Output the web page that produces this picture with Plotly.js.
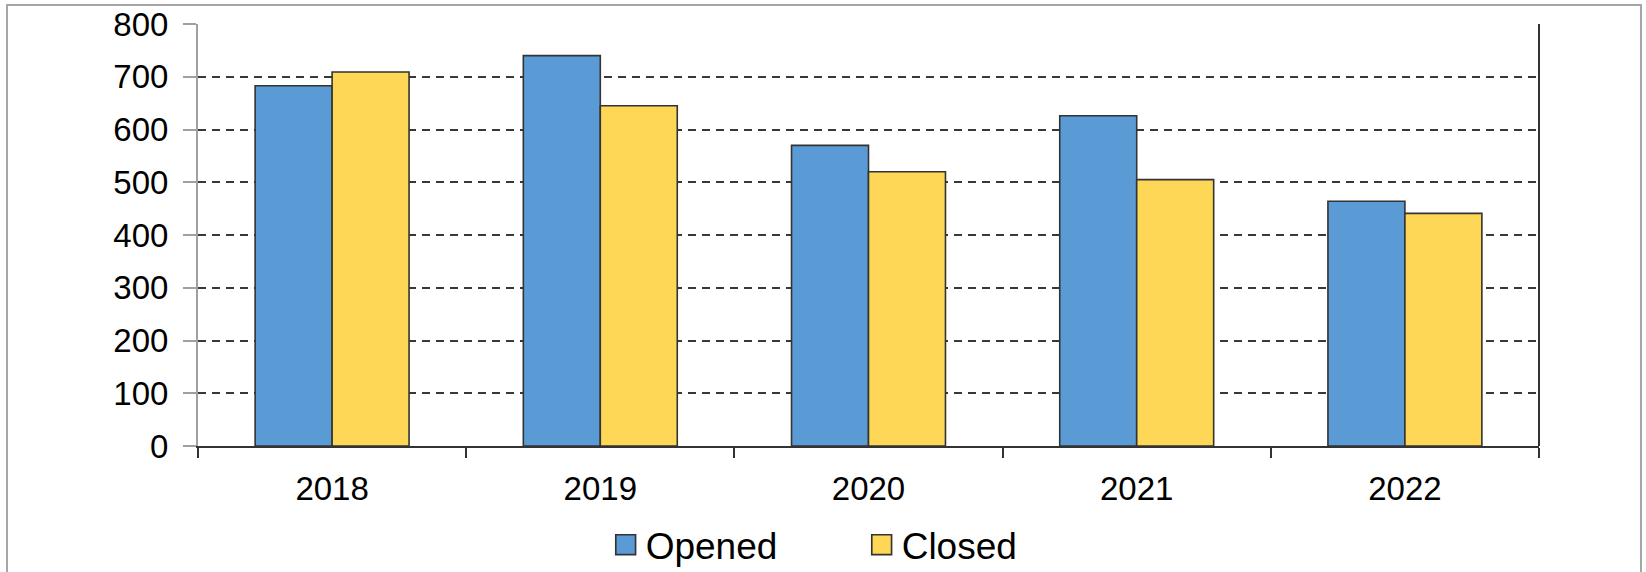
<!DOCTYPE html>
<html>
<head>
<meta charset="utf-8">
<script src="https://cdn.plot.ly/plotly-3.0.1.min.js"></script>
<style>
  html, body { margin: 0; padding: 0; background: #fff; overflow: hidden; }
  #chart { width: 1646px; height: 572px; }
  #frame { position: absolute; left: 6px; top: 4px; width: 1636px; height: 600px;
           border: 2px solid #a6a6a6; pointer-events: none; box-sizing: border-box; }
</style>
</head>
<body>
<div id="chart"></div>
<div id="frame"></div>
<script>
const years = ["2018", "2019", "2020", "2021", "2022"];
const opened = [683, 740, 570, 626, 464];
const closed = [709, 645, 520, 505, 441];
const yTicks = [0, 100, 200, 300, 400, 500, 600, 700, 800];

const FONT = "Liberation Sans, Arial, sans-serif";

const traces = [
  {
    type: "bar", name: "Opened", x: years, y: opened,
    marker: { color: "#5b9bd5", line: { color: "#333333", width: 1.6 } },
    hoverinfo: "x+y"
  },
  {
    type: "bar", name: "Closed", x: years, y: closed,
    marker: { color: "#ffd757", line: { color: "#333333", width: 1.6 } },
    hoverinfo: "x+y"
  }
];

const layout = {
  width: 1646, height: 572,
  margin: { l: 198, r: 107, t: 24, b: 126, autoexpand: false },
  paper_bgcolor: "#ffffff", plot_bgcolor: "#ffffff",
  font: { family: FONT, color: "#000000", size: 33 },
  barmode: "group", bargap: 0.426, bargroupgap: 0,
  showlegend: true,
  legend: {
    orientation: "h", x: 0.304, xanchor: "left",
    yref: "container", y: 0.047, yanchor: "middle",
    font: { family: FONT, size: 37, color: "#000" },
    entrywidth: 211, entrywidthmode: "pixels",
    bgcolor: "rgba(0,0,0,0)"
  },
  xaxis: {
    type: "category",
    tickson: "boundaries", ticks: "outside", ticklen: 10, tickwidth: 2, tickcolor: "#333333",
    showline: true, linecolor: "#333333", linewidth: 2,
    showgrid: false, zeroline: false,
    tickfont: { family: FONT, size: 33, color: "#000" },
    ticklabelstandoff: 12,
    fixedrange: true
  },
  yaxis: {
    range: [0, 800], tickvals: yTicks, ticktext: yTicks.map(String),
    ticks: "outside", ticklen: 13, tickwidth: 2, tickcolor: "#a0a0a0",
    showline: true, linecolor: "#a0a0a0", linewidth: 2,
    showgrid: true, gridcolor: "#383838", gridwidth: 2, griddash: "8px,6px",
    zeroline: false,
    tickfont: { family: FONT, size: 33, color: "#000" },
    ticklabelstandoff: 8,
    fixedrange: true
  },
  shapes: [
    { type: "line", xref: "paper", yref: "paper", x0: 1, x1: 1, y0: 0, y1: 1,
      line: { color: "#333333", width: 2 } }
  ]
};

Plotly.newPlot("chart", traces, layout, { displayModeBar: false, staticPlot: true }).then(function () {
  document.querySelectorAll("#chart .legend .legendpoints path").forEach(function (p) {
    const t = p.getAttribute("transform") || "";
    p.setAttribute("transform", t + " scale(1.65)");
    p.style.strokeWidth = "1px";
  });
});
</script>
</body>
</html>
